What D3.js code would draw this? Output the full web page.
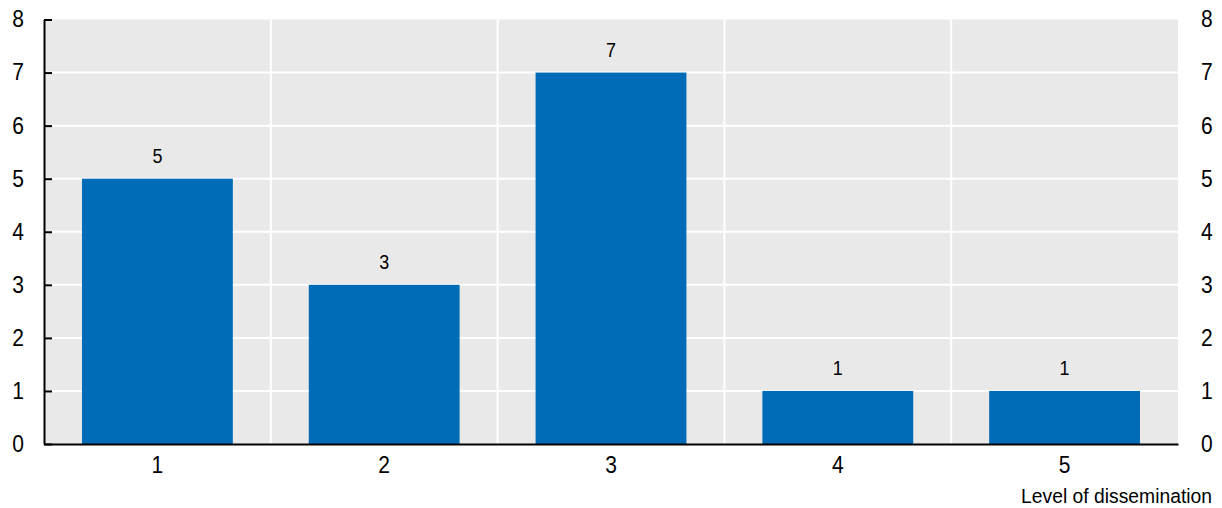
<!DOCTYPE html>
<html>
<head>
<meta charset="utf-8">
<script src="https://cdn.jsdelivr.net/npm/d3@7"></script>
<style>
  html, body { margin: 0; padding: 0; background: #ffffff; }
  svg { display: block; font-family: "Liberation Sans", Arial, sans-serif; }
</style>
</head>
<body>
<svg id="chart" width="1222" height="508"></svg>
<script>
// Number of cases by level of dissemination
const categories = ["1", "2", "3", "4", "5"];
const counts = [5, 3, 7, 1, 1];
const yTicks = [0, 1, 2, 3, 4, 5, 6, 7, 8];
const xTitle = "Level of dissemination";

const FONT = "\"Liberation Sans\", Arial, sans-serif";
const svg = d3.select("#chart");
const plot = { left: 44, right: 1178, top: 19.5, bottom: 444 };

// condensed look for the short labels
function condense(sel, width) {
  sel.attr("textLength", width).attr("lengthAdjust", "spacingAndGlyphs");
}

const x = d3.scaleBand()
  .domain(categories)
  .range([plot.left, plot.right])
  .paddingInner(0.335)
  .paddingOuter(0.1675);

const xCells = d3.scaleBand()
  .domain(categories)
  .range([plot.left, plot.right])
  .padding(0);

const y = d3.scaleLinear().domain([0, 8]).range([plot.bottom, plot.top]);

// plot background
svg.append("rect")
  .attr("x", plot.left).attr("y", plot.top)
  .attr("width", plot.right - plot.left)
  .attr("height", plot.bottom - plot.top)
  .attr("fill", "#e9e9e9");

// horizontal gridlines
svg.append("g")
  .selectAll("line")
  .data(yTicks.filter(d => d > 0 && d < 8))
  .join("line")
  .attr("x1", plot.left).attr("x2", plot.right)
  .attr("y1", d => y(d)).attr("y2", d => y(d))
  .attr("stroke", "#ffffff").attr("stroke-width", 2);

// vertical separators between categories
svg.append("g")
  .selectAll("line")
  .data(categories.slice(1))
  .join("line")
  .attr("x1", d => xCells(d)).attr("x2", d => xCells(d))
  .attr("y1", plot.top).attr("y2", plot.bottom)
  .attr("stroke", "#ffffff").attr("stroke-width", 2);

// bars
svg.append("g")
  .selectAll("rect")
  .data(categories.map((c, i) => ({ c, v: counts[i] })))
  .join("rect")
  .attr("x", d => x(d.c))
  .attr("width", x.bandwidth())
  .attr("y", d => y(d.v))
  .attr("height", d => y(0) - y(d.v))
  .attr("fill", "#006bb6");

// value labels
svg.append("g")
  .selectAll("text")
  .data(categories.map((c, i) => ({ c, v: counts[i] })))
  .join("text")
  .attr("x", d => x(d.c) + x.bandwidth() / 2)
  .attr("y", d => y(d.v) - 16)
  .attr("text-anchor", "middle")
  .attr("font-family", FONT)
  .attr("font-size", 20)
  .attr("fill", "#000")
  .text(d => d.v)
  .call(condense, 10);

// left axis: ticks drawn inward
const leftAxis = svg.append("g")
  .attr("transform", `translate(${plot.left},0)`)
  .call(d3.axisLeft(y).tickValues(yTicks).tickSize(-8).tickPadding(20).tickSizeOuter(0));
leftAxis.select(".domain").attr("stroke", "#000").attr("stroke-width", 2);
leftAxis.selectAll(".tick line").attr("stroke", "#000").attr("stroke-width", 2);
leftAxis.selectAll(".tick text")
  .attr("font-size", 23).attr("fill", "#000")
  .attr("font-family", FONT)
  .attr("x", -20)
  .call(condense, 11.7);

// right axis: labels only
const rightAxis = svg.append("g")
  .attr("transform", `translate(${plot.right},0)`)
  .call(d3.axisRight(y).tickValues(yTicks).tickSize(0).tickPadding(23));
rightAxis.select(".domain").remove();
rightAxis.selectAll(".tick text")
  .attr("font-size", 23).attr("fill", "#000")
  .attr("font-family", FONT)
  .call(condense, 11.7);

// bottom axis
const bottomAxis = svg.append("g")
  .attr("transform", `translate(0,${plot.bottom})`)
  .call(d3.axisBottom(x).tickSize(0).tickPadding(13).tickSizeOuter(0));
bottomAxis.select(".domain").attr("stroke", "#000").attr("stroke-width", 2);
bottomAxis.selectAll(".tick text")
  .attr("font-size", 23).attr("fill", "#000")
  .attr("font-family", FONT)
  .call(condense, 11.7);

// axis title, horizontally condensed
svg.append("text")
  .attr("transform", "translate(1212,503) scale(0.92,1)")
  .attr("text-anchor", "end")
  .attr("font-family", FONT)
  .attr("font-size", 21)
  .attr("fill", "#000")
  .text(xTitle);
</script>
</body>
</html>
